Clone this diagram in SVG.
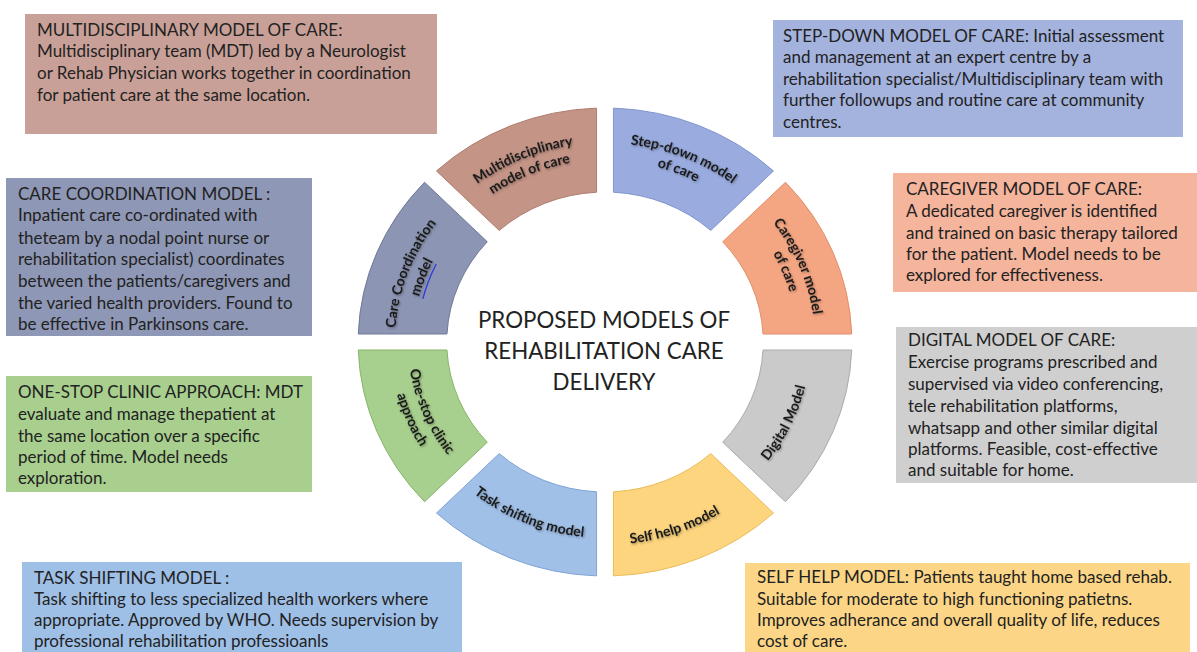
<svg xmlns="http://www.w3.org/2000/svg" width="1197" height="652" viewBox="0 0 1197 652">
<defs>
<style>
.bt{font-family:Lato,"Open Sans","Liberation Sans",sans-serif;font-size:17px;fill:#222222;}
.seg{stroke-width:1;}
.lbl{font-family:Lato,"Open Sans","Liberation Sans",sans-serif;font-size:14px;font-weight:bold;fill:#1a1a1a;filter:url(#sh);}
.title{font-family:Lato,"Open Sans","Liberation Sans",sans-serif;font-size:22.3px;fill:#222222;text-anchor:middle;}
</style>
<filter id="sh" x="-20%" y="-40%" width="140%" height="180%">
<feDropShadow dx="1" dy="1.2" stdDeviation="0.9" flood-color="#000000" flood-opacity="0.35"/>
</filter>
<path id="pMD1" d="M417.12,253.21 A209.95,199 0 0 1 664.63,151.20"/>
<path id="pMD2" d="M433.17,260.79 A192.01,182 0 0 1 659.53,167.50"/>
<path id="pSD1" d="M541.87,152.21 A209.95,199 0 0 1 791.23,250.12"/>
<path id="pSD2" d="M547.26,168.43 A192.01,182 0 0 1 775.31,257.97"/>
<path id="pCG1" d="M703.57,166.30 A209.95,199 0 0 1 804.68,403.49"/>
<path id="pCG2" d="M695.15,181.31 A192.01,182 0 0 1 787.62,398.24"/>
<path id="pCC1" d="M407.71,410.06 A209.95,199 0 0 1 500.03,169.67"/>
<path id="pCC2" d="M424.57,404.24 A192.01,182 0 0 1 508.99,184.39"/>
<path id="pOS1" d="M416.85,285.77 A197.29,187 0 0 0 513.91,507.87"/>
<path id="pOS2" d="M399.74,280.66 A215.22,204 0 0 0 505.63,522.95"/>
<path id="pTS" d="M420.76,430.98 A206.78,196 0 0 0 665.46,529.43"/>
<path id="pSH" d="M531.75,532.76 A214.17,203 0 0 0 790.47,443.5"/>
<path id="pDG" d="M691.94,518.73 A205.73,195 0 0 0 803.71,291.53"/>
</defs>
<rect width="1197" height="652" fill="#ffffff"/>

<g id="ring">
<g id="seg-md"><path class="seg" fill="#c49486" stroke="#ad7d70" d="M436.51,170.97 A246.87,234 0 0 1 596.56,108.14 L596.56,192.21 A158.25,150 0 0 0 499.23,230.42 Z"/>
<text class="lbl"><textPath href="#pMD1" startOffset="50%" text-anchor="middle">Multidisciplinary</textPath><textPath href="#pMD2" startOffset="50%" text-anchor="middle">model of care</textPath></text></g>
<g id="seg-sd"><path class="seg" fill="#99abdf" stroke="#8296cc" d="M613.44,108.14 A246.87,234 0 0 1 773.49,170.97 L710.77,230.42 A158.25,150 0 0 0 613.44,192.21 Z"/>
<text class="lbl"><textPath href="#pSD1" startOffset="50%" text-anchor="middle">Step-down model</textPath><textPath href="#pSD2" startOffset="50%" text-anchor="middle">of care</textPath></text></g>
<g id="seg-cg"><path class="seg" fill="#f4a682" stroke="#e08f6a" d="M785.44,182.29 A246.87,234 0 0 1 851.72,334 L763.03,334 A158.25,150 0 0 0 722.72,241.74 Z"/>
<text class="lbl"><textPath href="#pCG1" startOffset="50%" text-anchor="middle">Caregiver model</textPath><textPath href="#pCG2" startOffset="50%" text-anchor="middle">of care</textPath></text></g>
<g id="seg-dg"><path class="seg" fill="#cacaca" stroke="#ababab" d="M851.72,350 A246.87,234 0 0 1 785.44,501.71 L722.72,442.26 A158.25,150 0 0 0 763.03,350 Z"/>
<text class="lbl"><textPath href="#pDG" startOffset="50%" text-anchor="middle">Digital Model</textPath></text></g>
<g id="seg-sh"><path class="seg" fill="#fdd57f" stroke="#e9bd5c" d="M773.49,513.03 A246.87,234 0 0 1 613.44,575.86 L613.44,491.79 A158.25,150 0 0 0 710.77,453.58 Z"/>
<text class="lbl"><textPath href="#pSH" startOffset="50%" text-anchor="middle">Self help model</textPath></text></g>
<g id="seg-ts"><path class="seg" fill="#a0c0e8" stroke="#80a4d3" d="M596.56,575.86 A246.87,234 0 0 1 436.51,513.03 L499.23,453.58 A158.25,150 0 0 0 596.56,491.79 Z"/>
<text class="lbl"><textPath href="#pTS" startOffset="50%" text-anchor="middle">Task shifting model</textPath></text></g>
<g id="seg-os"><path class="seg" fill="#a7cf8d" stroke="#87b56b" d="M424.56,501.71 A246.87,234 0 0 1 358.28,350 L446.97,350 A158.25,150 0 0 0 487.28,442.26 Z"/>
<text class="lbl"><textPath href="#pOS1" startOffset="50%" text-anchor="middle">One-stop clinic</textPath><textPath href="#pOS2" startOffset="50%" text-anchor="middle">approach</textPath></text></g>
<g id="seg-cc"><path class="seg" fill="#8c95b3" stroke="#6f7898" d="M358.28,334 A246.87,234 0 0 1 424.56,182.29 L487.28,241.74 A158.25,150 0 0 0 446.97,334 Z"/>
<text class="lbl"><textPath href="#pCC1" startOffset="50%" text-anchor="middle">Care Coordination</textPath><textPath href="#pCC2" startOffset="50%" text-anchor="middle">model</textPath></text>
<path d="M422.8,298.9 A187.8,178 0 0 1 436.2,264.0" fill="none" stroke="#2f3fd6" stroke-width="1.4"/></g>
</g>

<g id="title">
<text class="title" x="604" y="328">PROPOSED MODELS OF</text>
<text class="title" x="604" y="359">REHABILITATION CARE</text>
<text class="title" x="604" y="390">DELIVERY</text>
</g>

<g id="box-md"><rect x="25" y="14" width="412" height="120" fill="#c9a097"/>
<text class="bt"><tspan x="37" y="36">MULTIDISCIPLINARY MODEL OF CARE:</tspan><tspan x="37" y="57">Multidisciplinary team (MDT) led by a Neurologist</tspan><tspan x="37" y="79">or Rehab Physician works together in coordination</tspan><tspan x="37" y="101">for patient care at the same location.</tspan></text></g>

<g id="box-sd"><rect x="773" y="20" width="410" height="117" fill="#a4b3de"/>
<text class="bt"><tspan x="783" y="42">STEP-DOWN MODEL OF CARE: Initial assessment</tspan><tspan x="783" y="63">and management at an expert centre by a</tspan><tspan x="783" y="85">rehabilitation specialist/Multidisciplinary team with</tspan><tspan x="783" y="106">further followups and routine care at community</tspan><tspan x="783" y="128">centres.</tspan></text></g>

<g id="box-cc"><rect x="6" y="178" width="306" height="158" fill="#8e97b5"/>
<text class="bt"><tspan x="18" y="200">CARE COORDINATION MODEL :</tspan><tspan x="18" y="221">Inpatient care co-ordinated with</tspan><tspan x="18" y="244">theteam by a nodal point nurse or</tspan><tspan x="18" y="265">rehabilitation specialist) coordinates</tspan><tspan x="18" y="287">between the patients/caregivers and</tspan><tspan x="18" y="309">the varied health providers. Found to</tspan><tspan x="18" y="330">be effective in Parkinsons care.</tspan></text></g>

<g id="box-cg"><rect x="893" y="173" width="304" height="119" fill="#f5b49c"/>
<text class="bt"><tspan x="906" y="195">CAREGIVER MODEL OF CARE:</tspan><tspan x="906" y="217">A dedicated caregiver is identified</tspan><tspan x="906" y="239">and trained on basic therapy tailored</tspan><tspan x="906" y="260">for the patient. Model needs to be</tspan><tspan x="906" y="281">explored for effectiveness.</tspan></text></g>

<g id="box-dg"><rect x="896" y="327" width="301" height="156" fill="#cfcfcf"/>
<text class="bt"><tspan x="908" y="346">DIGITAL MODEL OF CARE:</tspan><tspan x="908" y="368">Exercise programs prescribed and</tspan><tspan x="908" y="390">supervised via video conferencing,</tspan><tspan x="908" y="412">tele rehabilitation platforms,</tspan><tspan x="908" y="434">whatsapp and other similar digital</tspan><tspan x="908" y="455">platforms. Feasible, cost-effective</tspan><tspan x="908" y="476">and suitable for home.</tspan></text></g>

<g id="box-os"><rect x="6" y="376" width="306" height="116" fill="#a8cf8e"/>
<text class="bt"><tspan x="18" y="398">ONE-STOP CLINIC APPROACH: MDT</tspan><tspan x="18" y="420">evaluate and manage thepatient at</tspan><tspan x="18" y="442">the same location over a specific</tspan><tspan x="18" y="463">period of time. Model needs</tspan><tspan x="18" y="484">exploration.</tspan></text></g>

<g id="box-ts"><rect x="22" y="562" width="440" height="90" fill="#9ebfe6"/>
<text class="bt"><tspan x="34" y="584">TASK SHIFTING MODEL :</tspan><tspan x="34" y="605">Task shifting to less specialized health workers where</tspan><tspan x="34" y="626">appropriate. Approved by WHO. Needs supervision by</tspan><tspan x="34" y="647">professional rehabilitation professioanls</tspan></text></g>

<g id="box-sh"><rect x="745" y="563" width="445" height="89" fill="#fcd686"/>
<text class="bt"><tspan x="757" y="583">SELF HELP MODEL: Patients taught home based rehab.</tspan><tspan x="757" y="605">Suitable for moderate to high functioning patietns.</tspan><tspan x="757" y="626">Improves adherance and overall quality of life, reduces</tspan><tspan x="757" y="647">cost of care.</tspan></text></g>

<g id="connectors"></g>
</svg>
